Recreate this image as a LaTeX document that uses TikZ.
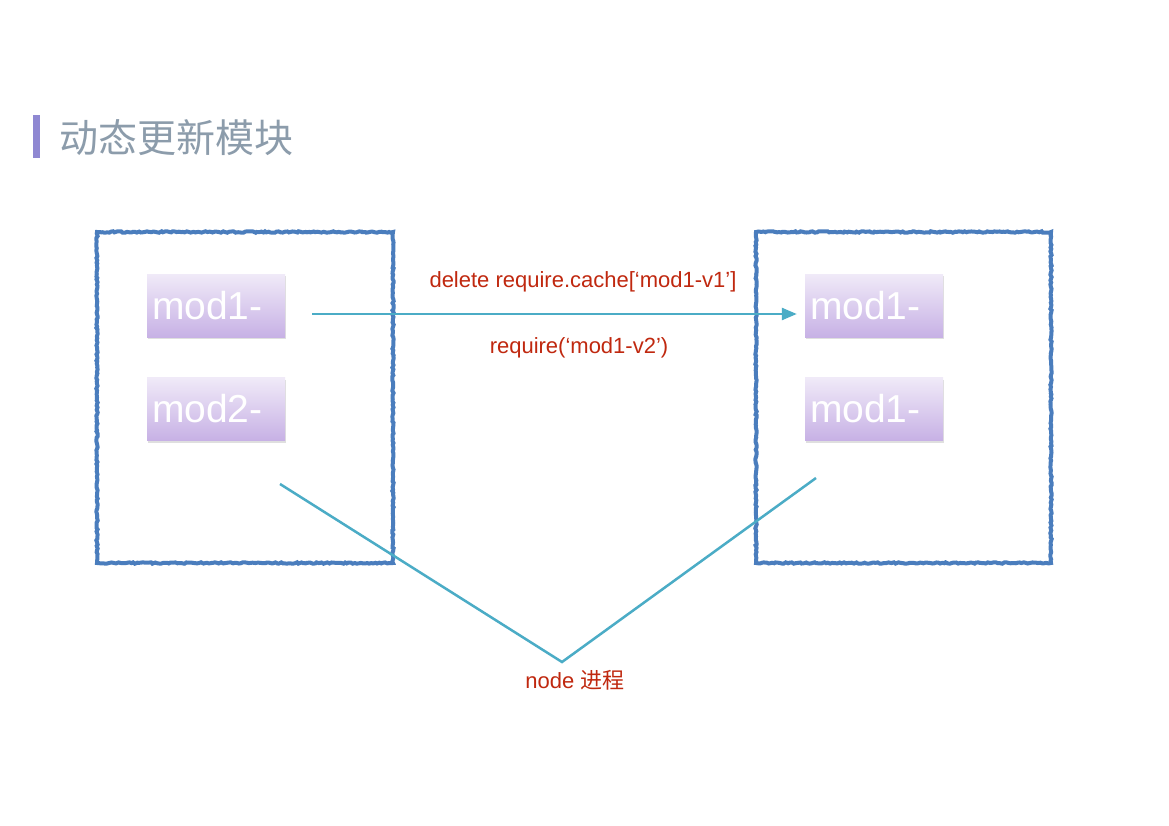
\documentclass[tikz,border=0pt]{standalone}
\usepackage{fontspec}
\setmainfont{Liberation Sans}
\newfontfamily\cjk{Noto Sans CJK SC}
\usepackage{xcolor}
\usetikzlibrary{arrows.meta,shadows,decorations.pathmorphing}
\definecolor{barpurple}{HTML}{8F88D2}
\definecolor{titlegray}{HTML}{8C9CAB}
\definecolor{boxblue}{HTML}{4A7DBD}
\definecolor{modtop}{HTML}{F0EAF8}
\definecolor{modbot}{HTML}{C7B1E5}
\definecolor{linkteal}{HTML}{4BACC6}
\definecolor{notered}{HTML}{C0280F}

\begin{document}
\begin{tikzpicture}
                        [x=1pt,y=-1pt,
                        proc/.style = {draw=boxblue,
                                    line width=4pt,
                                    decorate,
                                    decoration={random steps,segment length=2pt,amplitude=0.7pt}},
                        mod/.style = {rectangle,
                                    minimum width=138pt,
                                    minimum height=63pt,
                                    text width=128pt,
                                    inner xsep=5pt,
                                    align=left,
                                    top color=modtop,
                                    bottom color=modbot,
                                    drop shadow={opacity=0.25,shadow xshift=1pt,shadow yshift=-2pt},
                                    text=white,
                                    font=\fontsize{39}{44}\selectfont},
                        link/.style = {draw=linkteal,
                                    line width=2.5pt},
                        note/.style = {text=notered,
                                    font=\fontsize{22}{26}\selectfont}]
                        \useasboundingbox (0,0) rectangle (1169,826);
                        \fill[white] (0,0) rectangle (1169,826);
                        % Titulo
                        \fill[barpurple] (33,115) rectangle (40,158);
                        \node[anchor=west,inner sep=0pt,text=titlegray,
                              font=\cjk\fontsize{39}{45}\selectfont] (title) at (59,138) {动态更新模块};
                        % Procesos
                        \draw[proc] (97,232) rectangle (393,563);
                        \draw[proc] (756,232) rectangle (1051,563);
                        % Modulos
                        \node[mod] (modLa) at (216,305.5) {mod1-};
                        \node[mod] (modLb) at (216,409) {mod2-};
                        \node[mod] (modRa) at (874,305.5) {mod1-};
                        \node[mod] (modRb) at (874,409) {mod1-};
                        % Flecha de actualizacion
                        \draw[link,-{Triangle[length=15pt,width=12pt]}]
                            ([xshift=27pt,yshift=-8.5pt]modLa.east) -- ([xshift=-8pt,yshift=-8.5pt]modRa.west);
                        \node[note] (del) at (583,282) {delete require.cache[‘mod1-v1’]};
                        \node[note] (req) at (579,348) {require(‘mod1-v2’)};
                        % Etiqueta node
                        \coordinate (vL) at (280,484);
                        \coordinate (vB) at (562,662);
                        \coordinate (vR) at (816,478);
                        \draw[link] (vL) -- (vB) -- (vR);
                        \node[note] (nodep) at (575,680) {node {\cjk 进程}};
                    \end{tikzpicture}
\end{document}
